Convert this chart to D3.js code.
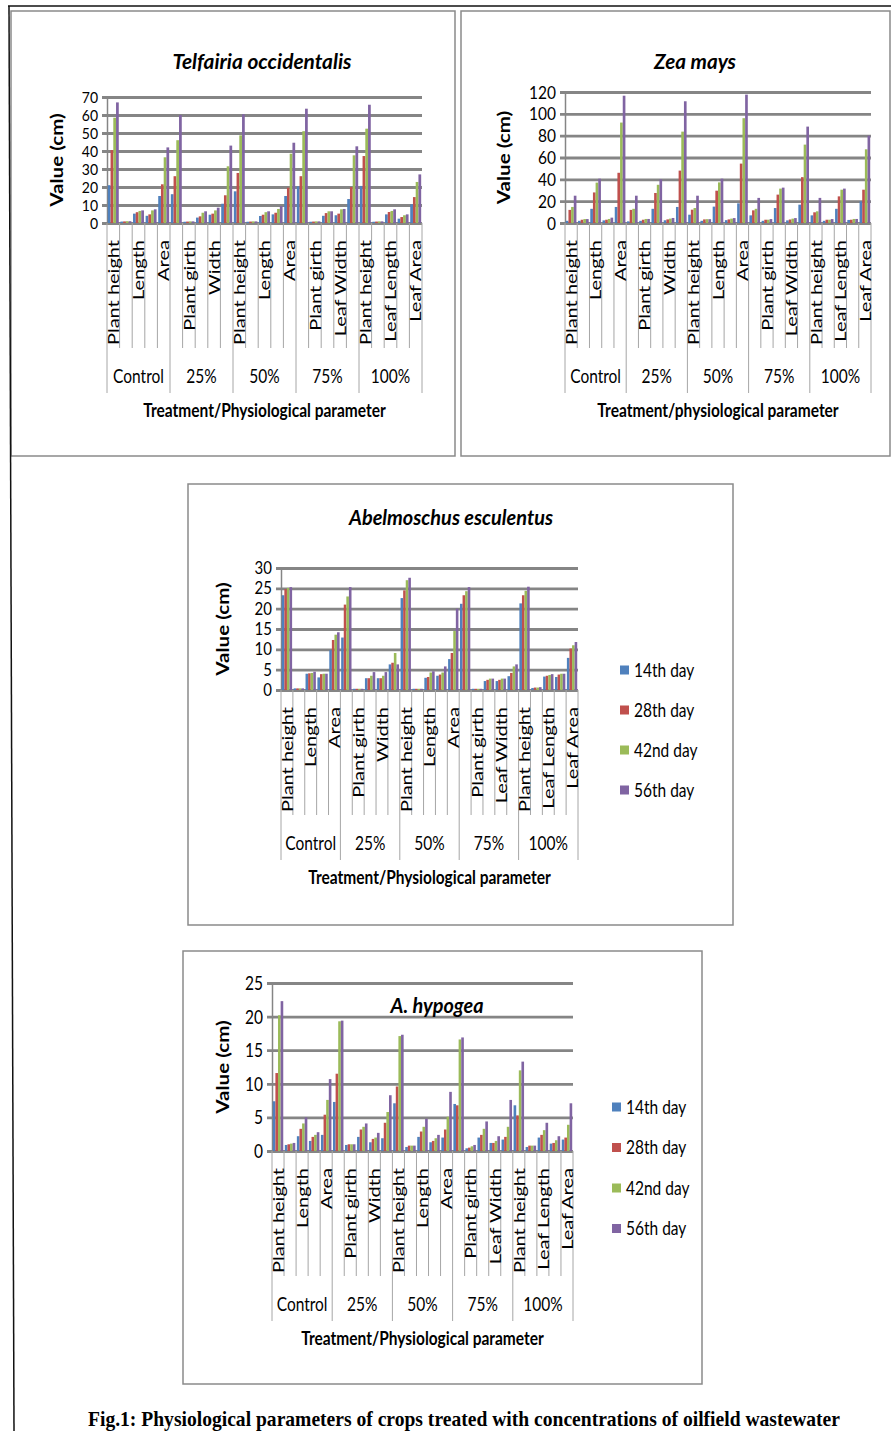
<!DOCTYPE html>
<html>
<head>
<meta charset="utf-8">
<script src="https://cdn.jsdelivr.net/npm/d3@7"></script>
<style>
  body { margin: 0; background: #fff; }
  svg { display: block; }
  text { font-family: Lato, "Open Sans", sans-serif; fill: #000; }
</style>
</head>
<body>
<div id="figure"></div>
<script>
// Categories: 5 treatments x 5 parameters, one bar per sampling day
const treatments = ["Control", "25%", "50%", "75%", "100%"];
const parameters = ["Plant height", "Plant girth", "Leaf Length", "Leaf Width", "Leaf Area"];
const days = ["14th day", "28th day", "42nd day", "56th day"];
const dayColors = ["#4F81BD", "#C0504D", "#9BBB59", "#8064A2"];

// Excel only printed every second category label
const shownLabels = ["Plant height", "", "Length", "", "Area",
                     "", "Plant girth", "", "Width", "",
                     "Plant height", "", "Length", "", "Area",
                     "", "Plant girth", "", "Leaf Width", "",
                     "Plant height", "", "Leaf Length", "", "Leaf Area"];

// Telfairia occidentalis
const telfairia14 = [21.0, 0.8, 5.2, 4.0, 15.0, 16.0, 0.7, 3.0, 4.6, 10.7, 17.6, 0.7, 3.9, 4.8, 15.0, 20.4, 0.7, 4.0, 4.3, 13.3, 20.6, 0.7, 4.8, 2.4, 10.4];
const telfairia28 = [40.5, 0.9, 6.0, 4.8, 21.5, 26.0, 0.8, 3.7, 5.2, 15.4, 27.8, 0.8, 4.6, 5.7, 19.6, 26.0, 0.8, 5.5, 5.2, 20.0, 37.2, 0.8, 6.1, 3.3, 14.4];
const telfairia42 = [58.5, 1.0, 6.7, 7.0, 36.5, 46.0, 0.9, 5.7, 7.0, 31.5, 48.7, 0.9, 6.0, 7.8, 38.5, 51.0, 0.9, 6.5, 7.6, 37.6, 52.4, 0.9, 6.7, 4.3, 22.8];
const telfairia56 = [67.0, 1.0, 7.0, 7.6, 42.0, 60.0, 0.9, 6.5, 8.5, 43.0, 60.4, 0.9, 6.5, 9.4, 44.6, 63.5, 0.9, 6.5, 7.8, 42.6, 65.7, 0.9, 7.6, 4.8, 27.0];

// Zea mays
const zea14 = [2.0, 2.0, 13.0, 2.4, 14.7, 1.5, 2.0, 13.0, 2.5, 14.7, 7.6, 2.0, 15.0, 2.6, 18.0, 7.0, 2.0, 13.7, 2.4, 16.8, 7.0, 2.0, 13.0, 2.8, 19.8];
const zea28 = [12.0, 3.0, 28.0, 3.0, 46.0, 12.0, 3.0, 27.5, 3.3, 48.0, 12.2, 3.3, 29.6, 3.3, 54.4, 11.6, 3.0, 26.0, 3.2, 42.0, 9.8, 3.0, 24.4, 3.0, 30.5];
const zea42 = [14.7, 3.6, 37.0, 3.7, 92.0, 13.0, 3.7, 35.0, 4.0, 83.7, 13.7, 3.5, 37.2, 4.0, 96.0, 13.0, 3.0, 31.5, 4.0, 71.8, 10.7, 3.0, 30.5, 3.7, 67.5];
const zea56 = [25.0, 3.6, 40.6, 4.9, 116.6, 25.0, 3.7, 40.0, 4.6, 111.5, 25.0, 3.5, 40.6, 4.5, 117.6, 23.0, 3.6, 32.4, 4.5, 88.3, 23.0, 3.6, 31.5, 3.7, 80.0];

// Abelmoschus esculentus
const okra14 = [23.3, 0.4, 4.0, 3.1, 9.8, 12.9, 0.3, 2.9, 2.9, 6.3, 22.6, 0.3, 3.0, 3.5, 7.6, 21.2, 0.3, 2.2, 2.2, 3.4, 21.3, 0.5, 3.3, 3.2, 7.9];
const okra28 = [24.8, 0.4, 4.1, 3.9, 12.3, 21.0, 0.3, 2.9, 2.9, 6.7, 24.5, 0.3, 3.2, 3.8, 9.1, 23.3, 0.3, 2.5, 2.5, 4.2, 23.3, 0.6, 3.5, 3.8, 10.2];
const okra42 = [25.1, 0.4, 4.2, 4.0, 13.6, 23.0, 0.3, 3.5, 3.5, 9.1, 27.0, 0.3, 4.3, 4.3, 14.5, 24.3, 0.3, 2.8, 2.8, 5.8, 24.4, 0.6, 3.7, 4.0, 11.0];
const okra56 = [25.3, 0.4, 4.5, 4.0, 14.2, 25.3, 0.3, 4.4, 4.4, 6.3, 27.6, 0.3, 4.6, 5.8, 20.0, 25.3, 0.3, 2.8, 2.8, 6.3, 25.4, 0.7, 3.9, 4.0, 11.8];

// A. hypogea
const hypogea14 = [7.4, 0.9, 2.2, 1.5, 2.4, 7.3, 0.9, 2.1, 1.3, 1.9, 7.1, 0.6, 2.1, 1.3, 2.0, 7.0, 0.4, 2.0, 1.2, 1.7, 6.8, 0.6, 2.0, 1.1, 1.7];
const hypogea28 = [11.6, 1.0, 3.3, 2.1, 5.4, 11.5, 1.0, 3.2, 1.8, 4.2, 9.6, 0.8, 2.9, 1.5, 3.2, 6.8, 0.5, 2.4, 1.2, 2.1, 5.3, 0.8, 2.4, 1.2, 2.0];
const hypogea42 = [20.2, 1.1, 4.1, 2.4, 7.6, 19.3, 1.0, 3.6, 2.0, 5.8, 17.1, 0.8, 3.6, 1.9, 5.1, 16.6, 0.7, 3.3, 1.5, 3.6, 12.0, 0.8, 3.1, 1.6, 3.9];
const hypogea56 = [22.3, 1.2, 5.0, 2.8, 10.7, 19.4, 1.0, 4.1, 2.7, 8.3, 17.3, 0.8, 4.8, 2.4, 8.8, 16.9, 0.9, 4.4, 2.2, 7.6, 13.3, 0.8, 4.2, 2.2, 7.1];

const caption = "Fig.1: Physiological parameters of crops treated with concentrations of oilfield wastewater";

// the scanned figure is stretched vertically, text included
const SY = 1.25;

const charts = [
  { title: "Telfairia occidentalis", titleX: 262, titleY: 69, titleLen: 179,
    box: [11, 11, 455, 456], x0: 107, x1: 422, y0: 223, yTop: 97, yMax: 70, step: 10, yLabelX: 57,
    tickFont: 14, tickSY: 1.05,
    xTitle: "Treatment/Physiological parameter",
    series: [telfairia14, telfairia28, telfairia42, telfairia56], legend: null },
  { title: "Zea mays", titleX: 695, titleY: 69, titleLen: 82,
    box: [461, 11, 890, 456], x0: 565, x1: 871, y0: 223, yTop: 92, yMax: 120, step: 20, yLabelX: 504,
    tickFont: 15.5, tickSY: 1.14,
    xTitle: "Treatment/physiological parameter",
    series: [zea14, zea28, zea42, zea56], legend: null },
  { title: "Abelmoschus esculentus", titleX: 451, titleY: 525, titleLen: 204,
    box: [188, 484, 733, 925], x0: 281, x1: 578, y0: 690, yTop: 568, yMax: 30, step: 5, yLabelX: 223,
    tickFont: 15, tickSY: 1.1,
    xTitle: "Treatment/Physiological parameter",
    series: [okra14, okra28, okra42, okra56], legend: { x: 620, y: 670, gap: 40 } },
  { title: "A. hypogea", titleX: 437, titleY: 1013, titleLen: 93,
    box: [183, 951, 702, 1384], x0: 272, x1: 573, y0: 1151, yTop: 983, yMax: 25, step: 5, yLabelX: 223,
    tickFont: 15.5, tickSY: 1.25,
    xTitle: "Treatment/Physiological parameter",
    series: [hypogea14, hypogea28, hypogea42, hypogea56], legend: { x: 612, y: 1107, gap: 40.5 } }
];

const svg = d3.select("#figure").append("svg")
  .attr("width", 891)
  .attr("height", 1431);

// text placed at (x, y), squashed the same way as the scan
function label(parent, x, y, str, rotate) {
  return parent.append("text")
    .attr("transform", `translate(${x},${y}) scale(1,${SY})` + (rotate ? " rotate(-90)" : ""))
    .text(str);
}

function drawChart(c) {
  const g = svg.append("g");

  g.append("rect")
    .attr("x", c.box[0]).attr("y", c.box[1])
    .attr("width", c.box[2] - c.box[0]).attr("height", c.box[3] - c.box[1])
    .attr("fill", "none")
    .attr("stroke", "#8a8a8a")
    .attr("stroke-width", 1.5);

  const cats = d3.range(treatments.length * parameters.length);
  const xCat = d3.scaleBand().domain(cats).range([c.x0, c.x1]);
  const xDay = d3.scaleBand().domain(d3.range(days.length))
    .range([0, xCat.bandwidth()])
    .paddingInner(0)
    .paddingOuter(0.3);
  const y = d3.scaleLinear().domain([0, c.yMax]).range([c.y0, c.yTop]);

  // value axis with gridlines
  const yAxis = d3.axisLeft(y)
    .tickValues(d3.range(0, c.yMax + 0.001, c.step))
    .tickSizeInner(-(c.x1 - c.x0))
    .tickSizeOuter(0)
    .tickPadding(9);
  const ag = g.append("g")
    .attr("transform", `translate(${c.x0},0)`)
    .call(yAxis);
  ag.select(".domain").attr("stroke", "#858585").attr("stroke-width", 1.5);
  ag.selectAll(".tick line")
    .attr("x1", -5)
    .attr("stroke", "#858585")
    .attr("stroke-width", 2.8);
  ag.selectAll(".tick text")
    .attr("font-size", c.tickFont)
    .attr("fill", "#000")
    .attr("dy", "0.34em")
    .attr("transform", `scale(1,${c.tickSY})`);

  // bars
  days.forEach((day, s) => {
    g.append("g").selectAll("rect")
      .data(c.series[s])
      .join("rect")
        .attr("x", (v, i) => xCat(i) + xDay(s))
        .attr("y", v => y(v))
        .attr("width", xDay.bandwidth())
        .attr("height", v => c.y0 - y(v))
        .attr("fill", dayColors[s]);
  });

  // category separators (long ones between treatments)
  g.append("g").selectAll("line")
    .data(d3.range(cats.length + 1))
    .join("line")
      .attr("x1", i => c.x0 + i * xCat.step())
      .attr("x2", i => c.x0 + i * xCat.step())
      .attr("y1", c.y0)
      .attr("y2", i => i % parameters.length === 0 ? c.y0 + 170 : c.y0 + 125)
      .attr("stroke", "#a6a6a6")
      .attr("stroke-width", 1);

  cats.filter(i => shownLabels[i]).forEach(i => {
    label(g, xCat(i) + xCat.bandwidth() / 2, c.y0 + 17, shownLabels[i], true)
      .attr("text-anchor", "end")
      .attr("dy", "0.36em")
      .attr("font-size", 16);
  });

  treatments.forEach((t, k) => {
    const gx = c.x0 + (k + 0.5) * parameters.length * xCat.step();
    label(g, gx, c.y0 + 160, t)
      .attr("text-anchor", "middle")
      .attr("font-size", 15.5);
  });

  label(g, (c.x0 + c.x1) / 2, c.y0 + 194, c.xTitle)
    .attr("text-anchor", "middle")
    .attr("font-size", 15.5)
    .attr("font-weight", "bold");

  label(g, c.yLabelX, (c.y0 + c.yTop) / 2, "Value (cm)", true)
    .attr("text-anchor", "middle")
    .attr("dy", "0.35em")
    .attr("font-size", 16.5)
    .attr("font-weight", "bold");

  label(g, c.titleX, c.titleY, c.title)
    .attr("text-anchor", "middle")
    .attr("font-size", 17)
    .attr("font-weight", "bold")
    .attr("font-style", "italic")
    .attr("textLength", c.titleLen)
    .attr("lengthAdjust", "spacingAndGlyphs");

  if (c.legend) {
    days.forEach((day, s) => {
      const ly = c.legend.y + s * c.legend.gap;
      g.append("rect")
        .attr("x", c.legend.x).attr("y", ly - 4.5)
        .attr("width", 9).attr("height", 9)
        .attr("fill", dayColors[s]);
      label(g, c.legend.x + 14, ly, day)
        .attr("dy", "0.35em")
        .attr("font-size", 15.5);
    });
  }
}

charts.forEach(drawChart);

// frame of the scanned page
svg.append("line")
  .attr("x1", 8).attr("y1", 6).attr("x2", 891).attr("y2", 6)
  .attr("stroke", "#111").attr("stroke-width", 1.5);
svg.append("line")
  .attr("x1", 9).attr("y1", 6).attr("x2", 14).attr("y2", 1431)
  .attr("stroke", "#111").attr("stroke-width", 1.5);

svg.append("text")
  .attr("transform", "translate(88,1426) scale(1,1.12)")
  .style("font-family", "'Liberation Serif', 'Times New Roman', serif")
  .attr("font-size", 19)
  .attr("font-weight", "bold")
  .attr("textLength", 752)
  .attr("lengthAdjust", "spacingAndGlyphs")
  .text(caption);
</script>
</body>
</html>
